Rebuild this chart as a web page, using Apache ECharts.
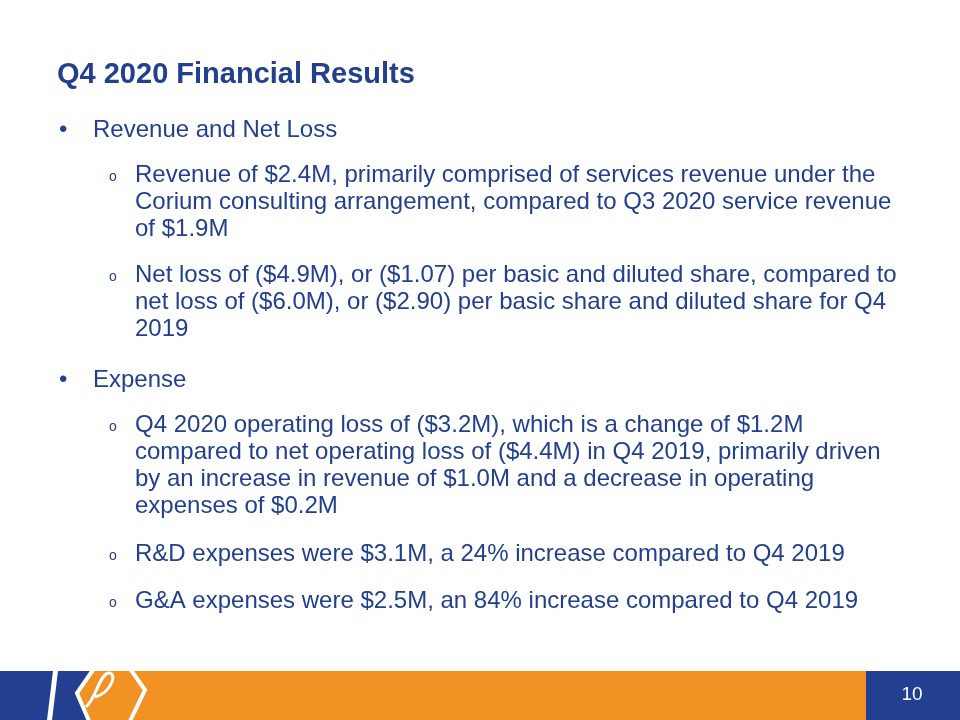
<!DOCTYPE html>
<html>
<head>
<meta charset="utf-8">
<script src="https://cdn.jsdelivr.net/npm/echarts@6/dist/echarts.min.js"></script>
<style>
html,body{margin:0;padding:0;background:#fff;}
#main{width:960px;height:720px;}
</style>
</head>
<body>
<div id="main"></div>
<script>
// ---- content ----
const titleText = 'Q4 2020 Financial Results';
const bulletItems = ['Revenue and Net Loss', 'Expense'];
const revenueSubItems = [
  ['Revenue of $2.4M, primarily comprised of services revenue under the',
   'Corium consulting arrangement, compared to Q3 2020 service revenue',
   'of $1.9M'],
  ['Net loss of ($4.9M), or ($1.07) per basic and diluted share, compared to',
   'net loss of ($6.0M), or ($2.90) per basic share and diluted share for Q4',
   '2019']
];
const expenseSubItems = [
  ['Q4 2020 operating loss of ($3.2M), which is a change of $1.2M',
   'compared to net operating loss of ($4.4M) in Q4 2019, primarily driven',
   'by an increase in revenue of $1.0M and a decrease in operating',
   'expenses of $0.2M'],
  ['R&D expenses were $3.1M, a 24% increase compared to Q4 2019'],
  ['G&A expenses were $2.5M, an 84% increase compared to Q4 2019']
];
const pageNumber = '10';

// ---- layout / style ----
const NAVY = '#22408f';
const ORANGE = '#f39224';
const FONT = '"Liberation Sans", Arial, sans-serif';
const LINE_H = 27;
const bulletY = [129, 379];
const subStartY = [[174, 274], [424, 553, 600]];

const chart = echarts.init(document.getElementById('main'), null, {renderer: 'canvas'});
const els = [];

function text(x, y, str, size, bold) {
  els.push({
    type: 'text', x: x, y: y, silent: true,
    style: {
      text: str, fill: NAVY, font: (bold ? 'bold ' : '') + size + 'px ' + FONT,
      verticalAlign: 'middle', align: 'left'
    }
  });
}

// title
text(57, 75, titleText, 29, true);

// bullets
const groups = [revenueSubItems, expenseSubItems];
bulletItems.forEach((b, i) => {
  text(59, bulletY[i] + 1, '\u2022', 24);
  text(93, bulletY[i] + 1, b, 24);
  groups[i].forEach((lines, j) => {
    const y0 = subStartY[i][j] + 1;
    text(109, y0 + 2, 'o', 14);
    lines.forEach((ln, k) => text(135, y0 + k * LINE_H, ln, 24));
  });
});

// footer band
els.push({type: 'rect', silent: true, shape: {x: 0, y: 671, width: 960, height: 49}, style: {fill: ORANGE}});
els.push({type: 'rect', silent: true, shape: {x: 866, y: 671, width: 94, height: 49}, style: {fill: NAVY}});
// logo: blue part
els.push({type: 'polygon', silent: true, shape: {points: [[0, 671], [90, 671], [75, 693], [87, 720], [0, 720]]}, style: {fill: NAVY}});
// white slanted stripe
els.push({type: 'polygon', silent: true, shape: {points: [[53, 671], [58, 671], [52, 720], [47, 720]]}, style: {fill: '#fff'}});
// "<" white chevron
els.push({type: 'polyline', silent: true, shape: {points: [[93, 670], [77, 693], [89, 721]]}, style: {stroke: '#fff', lineWidth: 4, fill: null}});
// swirl
els.push({type: 'bezierCurve', silent: true,
  shape: {x1: 86, y1: 707, cpx1: 96, cpy1: 698, cpx2: 99, cpy2: 676, x2: 108, y2: 673},
  style: {stroke: '#fff', lineWidth: 3, fill: null}});
els.push({type: 'bezierCurve', silent: true,
  shape: {x1: 108, y1: 673, cpx1: 118, cpy1: 672, cpx2: 112, cpy2: 692, x2: 95, y2: 697},
  style: {stroke: '#fff', lineWidth: 3, fill: null}});
// ">" white chevron
els.push({type: 'polyline', silent: true, shape: {points: [[131, 670], [145, 690], [130, 721]]}, style: {stroke: '#fff', lineWidth: 4, fill: null}});
// page number
els.push({type: 'text', silent: true, x: 912, y: 695, style: {text: pageNumber, fill: '#fff', font: '19px ' + FONT, align: 'center', verticalAlign: 'middle'}});

chart.setOption({animation: false, graphic: {elements: els}});
</script>
</body>
</html>
